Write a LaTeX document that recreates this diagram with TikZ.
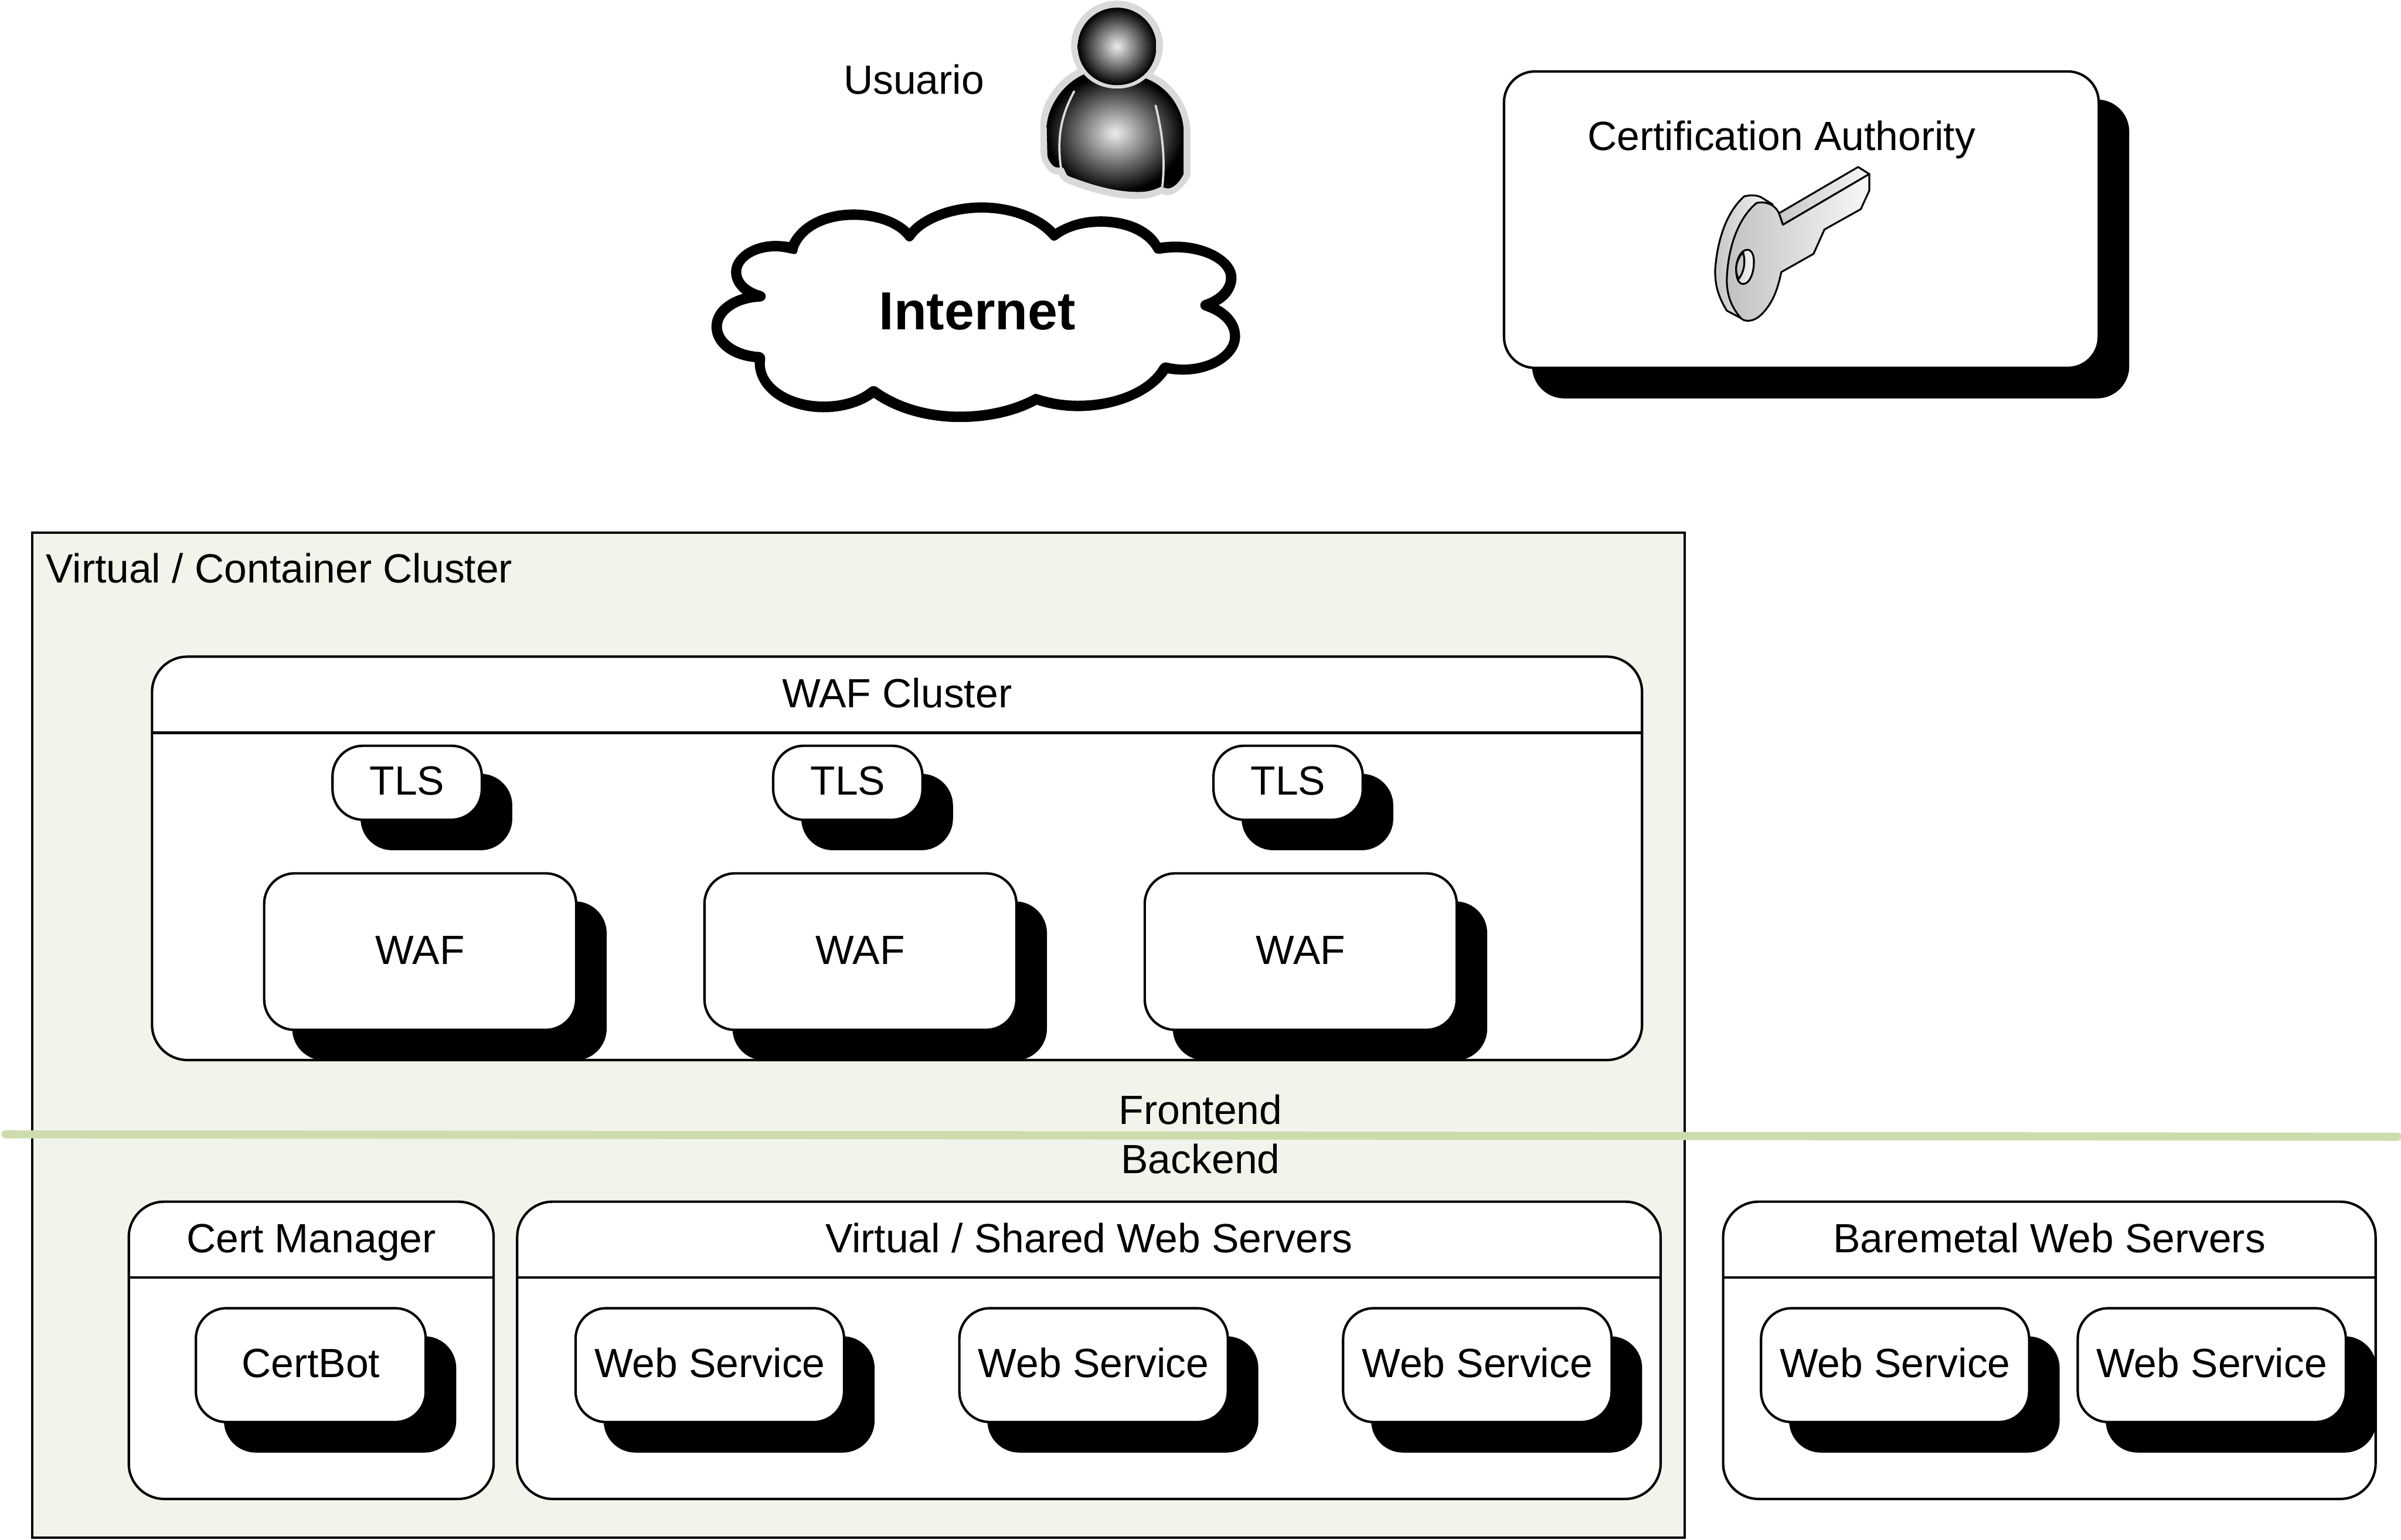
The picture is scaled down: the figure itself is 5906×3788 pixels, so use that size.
\documentclass[tikz,border=0pt]{standalone}
\usepackage{fontspec}
\setmainfont{Liberation Sans}
\definecolor{clusterfill}{HTML}{F1F4EB}
\definecolor{divider}{HTML}{CDDCAC}
\definecolor{halo}{HTML}{D9D9D9}
\newcommand{\pbox}[7]{%
  \pgfmathsetmacro\pbcx{(#3+#5)/2}\pgfmathsetmacro\pbcy{(#4+#6)/2}%
  \pgfmathsetmacro\pbw{(#5-#3)/100}\pgfmathsetmacro\pbh{(#6-#4)/100}%
  \node[#1,minimum width=\pbw cm,minimum height=\pbh cm] (#2) at (\pbcx,\pbcy) {#7};}
\newcommand{\shbox}[7]{%
  \pbox{shadowbox,rounded corners=#1}{#2s}{#3}{#4}{#5}{#6}{}%
  \pbox{innerbox,rounded corners=#1}{#2}{#3}{#4}{#5}{#6}{#7}}
\newcommand{\titled}[7]{%
  \pbox{panel}{#1}{#2}{#3}{#4}{#5}{}%
  \coordinate (#1h) at (0,#6);
  \draw[rule] (#1.west |- #1h) -- (#1.east |- #1h);
  \pgfmathsetmacro\tcx{(#2+#4)/2}\pgfmathsetmacro\tcy{(#3+#6)/2+1}%
  \node[lbl] (#1t) at (\tcx,\tcy) {#7};}
\tikzset{
  x=0.01cm,y=-0.01cm,
  rule/.style={line width=0.06cm},
  lbl/.style={inner sep=0,outer sep=0,text height=0.71cm,text depth=0.10cm,
    font=\fontsize{28.55}{32}\selectfont},
  panel/.style={rectangle,draw,fill=white,line width=0.06cm,rounded corners=0.87cm,inner sep=0,outer sep=0},
  innerbox/.style={rectangle,draw,fill=white,line width=0.06cm,inner sep=0,outer sep=0,lbl},
  shadowbox/.style={rectangle,fill=black,draw=black,line width=0.06cm,inner sep=0,outer sep=0,xshift=0.72cm,yshift=-0.72cm},
  keyline/.style={draw=black,line width=0.045cm,line join=round},
  keyshade/.style={left color=#1,right color=white!97!black},
}
\begin{document}
\begin{tikzpicture}
\useasboundingbox (0,0) rectangle (5906,3788);

% cluster
\pbox{rectangle,draw,fill=clusterfill,line width=0.06cm,inner sep=0,outer sep=0}{cluster}{80}{1311}{4143}{3783}{}
\node[lbl,anchor=west] (clusterl) at (113,1403) {Virtual / Container Cluster};

% WAF cluster
\titled{wafc}{375}{1616}{4038}{2608}{1803}{WAF Cluster}
\shbox{0.75cm}{tlsa}{818}{1835}{1185}{2017}{TLS}
\shbox{0.75cm}{tlsb}{1902}{1835}{2269}{2017}{TLS}
\shbox{0.75cm}{tlsc}{2985}{1835}{3352}{2017}{TLS}
\shbox{0.75cm}{wafa}{650}{2149}{1417}{2534}{WAF}
\shbox{0.75cm}{wafb}{1733}{2149}{2500}{2534}{WAF}
\shbox{0.75cm}{wafd}{2816}{2149}{3583}{2534}{WAF}

% backend panels
\titled{certm}{317}{2957}{1214}{3688}{3143}{Cert Manager}
\shbox{0.75cm}{certbot}{482}{3219}{1047}{3499}{CertBot}
\titled{shared}{1273}{2957}{4084}{3688}{3143}{Virtual / Shared Web Servers}
\shbox{0.75cm}{wsa}{1416}{3219}{2076}{3499}{Web Service}
\shbox{0.75cm}{wsb}{2360}{3219}{3020}{3499}{Web Service}
\shbox{0.75cm}{wsc}{3304}{3219}{3964}{3499}{Web Service}
\titled{bare}{4239}{2957}{5843}{3688}{3143}{Baremetal Web Servers}
\shbox{0.75cm}{wsd}{4332}{3219}{4991}{3499}{Web Service}
\shbox{0.75cm}{wse}{5111}{3219}{5770}{3499}{Web Service}

% divider
\coordinate (dl) at (14,2791);
\coordinate (dr) at (5897,2797);
\draw[divider,line width=0.2cm,line cap=round] (dl) -- (dr);
\node[lbl] (front) at (2953,2736) {Frontend};
\node[lbl] (back) at (2953,2857) {Backend};

% certification authority
\shbox{0.76cm}{ca}{3700}{176}{5162}{905}{}
\node[lbl] (cal) at (4382,340) {Certification Authority};

% key
\begin{scope}[shift={(4100,350)},x=0.00383cm,y=-0.00333cm]
  \path[keyline,keyshade=black!22] (497,400) .. controls (550,385) and (590,395) .. (610,410) -- (680,460)
    -- (620,445) -- (575,450) -- (475,1300) -- (385,1245)
    .. controls (330,1140) and (310,1060) .. (310,950)
    .. controls (320,760) and (370,530) .. (497,400) -- cycle;
  \path[keyline,keyshade=black!22] (720,525) -- (1228,183) -- (1300,235) -- (745,610) -- cycle;
  \path[keyline,keyshade=black!24] (575,450) .. controls (620,435) and (690,450) .. (720,525)
    -- (745,610) -- (1300,235) -- (1300,357) -- (1245,495) -- (1012,645) -- (942,825) -- (735,960)
    .. controls (715,1070) and (690,1150) .. (650,1215)
    .. controls (610,1280) and (570,1320) .. (520,1320)
    .. controls (500,1320) and (485,1312) .. (475,1300)
    .. controls (415,1220) and (385,1130) .. (385,1020)
    .. controls (390,800) and (450,570) .. (575,450) -- cycle;
  \path[keyline,keyshade=black!15] (517,795) .. controls (545,795) and (555,830) .. (558,860)
    .. controls (565,950) and (535,1048) .. (490,1048)
    .. controls (455,1048) and (445,990) .. (445,940)
    .. controls (445,870) and (475,795) .. (517,795) -- cycle;
  \path[keyline,fill=black!22] (490,815) .. controls (505,880) and (500,950) .. (462,1010)
    .. controls (450,990) and (445,960) .. (445,940) .. controls (445,890) and (465,840) .. (490,815) -- cycle;
\end{scope}

% person
\begin{scope}[shift={(2400,0)},x=0.00446cm,y=-0.00344cm]
  \fill[halo] (780,5) .. controls (920,5) and (1033,150) .. (1033,330)
    .. controls (1033,400) and (1015,470) .. (978,530)
    .. controls (1100,600) and (1185,780) .. (1185,950) -- (1185,1255)
    .. controls (1160,1330) and (1100,1398) .. (1060,1398)
    .. controls (1045,1398) and (1035,1395) .. (1028,1387)
    .. controls (990,1410) and (950,1425) .. (900,1425)
    .. controls (750,1425) and (620,1370) .. (500,1310)
    .. controls (480,1295) and (465,1275) .. (458,1250)
    .. controls (440,1250) and (425,1245) .. (415,1235)
    .. controls (375,1190) and (358,1140) .. (358,1090) -- (356,900)
    .. controls (360,730) and (450,570) .. (563,497)
    .. controls (540,440) and (526,390) .. (526,330)
    .. controls (526,150) and (640,5) .. (780,5) -- cycle;
  \shade[inner color=black!7,outer color=black]
    (597,533) .. controls (640,600) and (710,635) .. (780,635)
    .. controls (840,635) and (895,610) .. (938,562)
    .. controls (1060,620) and (1147,780) .. (1147,940) -- (1147,1248)
    .. controls (1125,1305) and (1090,1350) .. (1060,1350)
    .. controls (1050,1350) and (1040,1345) .. (1025,1335)
    .. controls (990,1360) and (950,1375) .. (900,1375)
    .. controls (760,1375) and (630,1320) .. (510,1260)
    .. controls (490,1240) and (495,1205) .. (475,1195) -- (462,1200)
    .. controls (450,1200) and (440,1200) .. (430,1190)
    .. controls (405,1160) and (395,1130) .. (395,1100) -- (392,900)
    .. controls (400,760) and (480,600) .. (597,533) -- cycle;
  \draw[halo,line width=0.055cm,line cap=round] (543,655) .. controls (480,810) and (445,960) .. (470,1200);
  \draw[halo,line width=0.055cm,line cap=round] (993,757) .. controls (1020,900) and (1050,1100) .. (1030,1335);
  \shade[inner color=black!7,outer color=black] (780,55) .. controls (900,55) and (997,180) .. (997,332)
    .. controls (997,490) and (900,610) .. (780,610)
    .. controls (660,610) and (563,490) .. (563,332)
    .. controls (563,180) and (660,55) .. (780,55) -- cycle;
\end{scope}
\node[lbl] (usuario) at (2248,201) {Usuario};

% cloud
\begin{scope}[shift={(1700,460)},x=0.00893cm,y=-0.00395cm]
  \fill[black] (270,343) .. controls (300,210) and (370,140) .. (448,140) .. controls (510,140) and (570,190) .. (601,258)
    .. controls (640,160) and (720,96) .. (800,96) .. controls (880,96) and (960,160) .. (1003,260)
    .. controls (1040,210) and (1080,183) .. (1128,183) .. controls (1200,183) and (1265,240) .. (1292,347)
    .. controls (1305,343) and (1320,340) .. (1335,340) .. controls (1420,340) and (1502,440) .. (1502,565)
    .. controls (1502,630) and (1485,695) .. (1453,735) .. controls (1490,780) and (1512,850) .. (1512,930)
    .. controls (1512,1060) and (1440,1168) .. (1355,1168) .. controls (1340,1168) and (1325,1165) .. (1313,1160)
    .. controls (1270,1300) and (1170,1395) .. (1065,1395) .. controls (1025,1395) and (985,1380) .. (952,1355)
    .. controls (900,1420) and (825,1463) .. (740,1463) .. controls (640,1463) and (555,1395) .. (503,1312)
    .. controls (470,1365) and (420,1402) .. (365,1402) .. controls (260,1402) and (175,1270) .. (175,1090)
    .. controls (105,1075) and (56,985) .. (56,870) .. controls (56,775) and (90,700) .. (142,665)
    .. controls (122,630) and (110,580) .. (110,530) .. controls (110,425) and (165,336) .. (232,336)
    .. controls (245,336) and (258,338) .. (270,343) -- cycle;
  \fill[white] (283,418) .. controls (295,418) and (292,395) .. (295,380) .. controls (315,270) and (375,205) .. (448,205)
    .. controls (510,205) and (565,250) .. (590,325) .. controls (597,345) and (605,345) .. (613,325)
    .. controls (640,230) and (720,160) .. (800,160) .. controls (880,160) and (950,220) .. (990,325)
    .. controls (997,340) and (1003,338) .. (1012,322) .. controls (1040,275) and (1080,248) .. (1128,248)
    .. controls (1195,248) and (1250,305) .. (1273,395) .. controls (1278,420) and (1285,418) .. (1300,413)
    .. controls (1312,409) and (1325,407) .. (1335,407) .. controls (1410,407) and (1473,480) .. (1473,565)
    .. controls (1473,620) and (1450,675) .. (1415,702) .. controls (1398,712) and (1398,760) .. (1415,770)
    .. controls (1455,800) and (1484,860) .. (1484,930) .. controls (1484,1025) and (1425,1105) .. (1355,1105)
    .. controls (1340,1105) and (1325,1100) .. (1312,1093) .. controls (1300,1088) and (1295,1100) .. (1290,1115)
    .. controls (1255,1250) and (1165,1330) .. (1065,1330) .. controls (1025,1330) and (990,1315) .. (955,1290)
    .. controls (948,1284) and (945,1288) .. (940,1295) .. controls (885,1360) and (815,1398) .. (740,1398)
    .. controls (650,1398) and (570,1340) .. (512,1245) .. controls (505,1235) and (497,1237) .. (490,1250)
    .. controls (460,1305) and (415,1335) .. (365,1335) .. controls (275,1335) and (203,1230) .. (203,1100)
    .. controls (203,1085) and (210,1040) .. (190,1027) .. controls (130,1020) and (85,950) .. (85,870)
    .. controls (85,790) and (130,720) .. (190,714) .. controls (210,710) and (212,655) .. (190,645)
    .. controls (160,625) and (138,580) .. (138,530) .. controls (138,460) and (180,401) .. (232,401)
    .. controls (250,401) and (265,410) .. (283,418) -- cycle;
\end{scope}
\node[inner sep=0,outer sep=0,font=\fontsize{37.5}{42}\bfseries\selectfont] (internet) at (2404,766) {Internet};
\end{tikzpicture}
\end{document}
